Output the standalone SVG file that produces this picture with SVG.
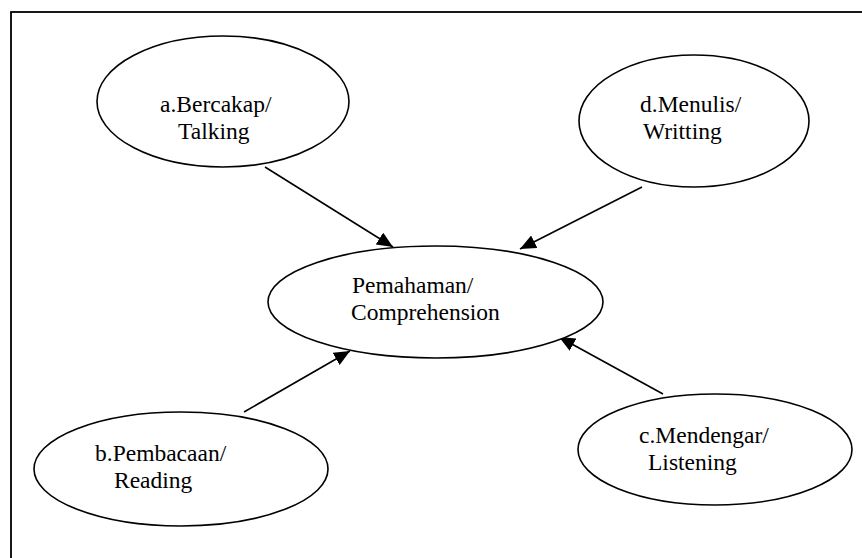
<svg xmlns="http://www.w3.org/2000/svg" width="862" height="558" viewBox="0 0 862 558">
<style>
.frame{fill:none;stroke:#000;stroke-width:1.8}
.node ellipse{fill:#fff;stroke:#000;stroke-width:1.6}
.node text{font-size:23.5px;fill:#000}
.conn line{stroke:#000;stroke-width:1.6}
</style>
<defs>
<marker id="ah" markerUnits="userSpaceOnUse" markerWidth="18" markerHeight="14" refX="16" refY="7" orient="auto">
<path d="M0,0 L16,7 L0,14 Z" fill="#000"/>
</marker>
</defs>
<rect width="862" height="558" fill="#fff"/>
<rect class="frame" x="11" y="12" width="900" height="600"/>
<g id="connectors" class="conn">
<line x1="265" y1="167" x2="393" y2="247" marker-end="url(#ah)"/>
<line x1="642" y1="187" x2="520" y2="249" marker-end="url(#ah)"/>
<line x1="244" y1="412" x2="350" y2="351" marker-end="url(#ah)"/>
<line x1="663" y1="394" x2="559" y2="337" marker-end="url(#ah)"/>
</g>
<g font-family="Liberation Serif, Tinos, Times New Roman, DejaVu Serif, serif">
<g id="node-talking" class="node">
<ellipse cx="223" cy="101.5" rx="126" ry="65.5"/>
<text x="160" y="112">a.Bercakap/</text>
<text x="178" y="138.5">Talking</text>
</g>
<g id="node-writing" class="node">
<ellipse cx="694" cy="121" rx="115" ry="66"/>
<text x="640" y="112">d.Menulis/</text>
<text x="643" y="138.5">Writting</text>
</g>
<g id="node-comprehension" class="node">
<ellipse cx="435.5" cy="302" rx="167.5" ry="56"/>
<text x="352" y="293">Pemahaman/</text>
<text x="351" y="319.5">Comprehension</text>
</g>
<g id="node-reading" class="node">
<ellipse cx="181" cy="469" rx="147" ry="57"/>
<text x="95" y="461">b.Pembacaan/</text>
<text x="114" y="488">Reading</text>
</g>
<g id="node-listening" class="node">
<ellipse cx="715" cy="449.5" rx="137" ry="55.5"/>
<text x="639" y="443">c.Mendengar/</text>
<text x="648" y="470">Listening</text>
</g>
</g>
</svg>
